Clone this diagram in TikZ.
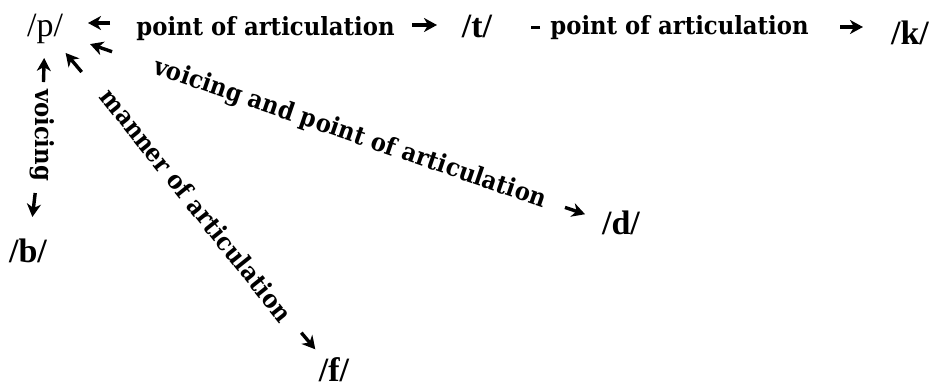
\documentclass[tikz,border=0pt]{standalone}
\usepackage{fontspec}
\setmainfont{Liberation Serif}
\newfontfamily\labfont[FakeStretch=0.91]{DejaVu Serif}
\usetikzlibrary{arrows.meta}
\begin{document}
\begin{tikzpicture}[x=1pt,y=-1pt,
  ph/.style={inner sep=0pt, text height=23pt, text depth=7pt, font=\fontsize{34}{40}\selectfont},
  phb/.style={ph, font=\bfseries\fontsize{34}{40}\selectfont},
  lab/.style={inner sep=0pt, text height=19pt, text depth=5pt, font=\labfont\bfseries\fontsize{25}{30}\selectfont},
  arr/.style={-{Stealth[length=13pt,width=14pt,inset=4pt]}, line width=3.4pt},
  bar/.style={line width=3pt}]
\useasboundingbox (0,0) rectangle (942,389);
% phonemes
\node[ph]  (p) at (45,28.5)  {/p/};
\node[phb] (t) at (477,29.5) {/t/};
\node[phb] (k) at (910,36.5) {/k/};
\node[phb] (b) at (28,254.5) {/b/};
\node[phb] (d) at (621,226.5) {/d/};
\node[phb, text depth=3pt] (f) at (334,371.5) {/f/};
% labels
\node[lab] (l1) at (265.5,28) {point of articulation};
\node[lab] (l2) at (679.5,27) {point of articulation};
\node[lab, rotate=-90] (lv) at (42,135) {voicing};
\node[lab, rotate=-19] (lvp) at (350,134) {voicing and point of articulation};
\node[lab, rotate=-51.3] (lm) at (195,206.5) {manner of articulation};
% connectors
\draw[arr, shorten <=155.5pt, shorten >=43pt] ([yshift=5pt]l1.center) -- ([yshift=5pt]l1.center -| p.center);
\draw[arr, shorten <=146.5pt, shorten >=40pt] ([yshift=3pt]l1.center) -- ([yshift=3pt]l1.center -| t.center);
\draw[bar, shorten <=139.5pt, shorten >=54pt] (l2.center) -- (l2.center -| t.center);
\draw[arr, shorten <=160.5pt, shorten >=47pt] (l2.center) -- (l2.center -| k.center);
\draw[arr, shorten <=53pt, shorten >=29.5pt] (lv.center) -- (p.center);
\draw[arr, shorten <=58.4pt, shorten >=37.8pt] (lv.center) -- (b.center);
\draw[arr, shorten <=251.8pt, shorten >=47.7pt] (lvp.center) -- (p.center);
\draw[arr, shorten <=227.2pt, shorten >=38pt] (lvp.center) -- (d.center);
\draw[arr, shorten <=175.9pt, shorten >=32pt] (lm.center) -- (p.center);
\draw[arr, shorten <=165pt, shorten >=29pt] (lm.center) -- (f.center);
\end{tikzpicture}
\end{document}
